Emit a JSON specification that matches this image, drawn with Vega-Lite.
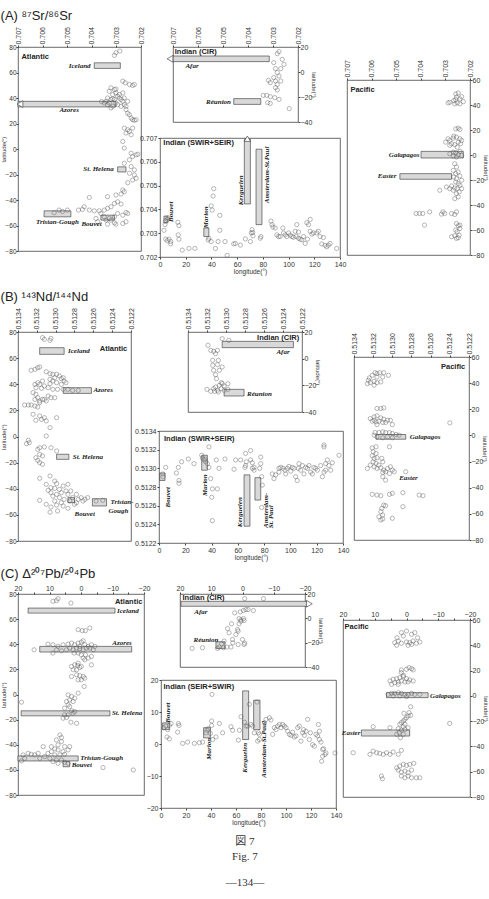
{
"$schema":"https://vega.github.io/schema/vega-lite/v6.json",
"background":"white",
"padding":{"left":0,"top":10,"right":0,"bottom":2},
"config":{
 "view":{"stroke":"#444","strokeWidth":0.8},
 "axis":{"labelFont":"Liberation Sans","labelFontSize":7,"labelColor":"#333","titleFont":"Liberation Sans","titleFontSize":6.5,"titleFontWeight":"normal","titleColor":"#333","tickColor":"#444","tickSize":2,"domain":false,"grid":false,"labelPadding":1,"titlePadding":2,"labelFlush":false,"labelOverlap":false,"labelBound":false}
},
"title":{"text":["図 7","Fig. 7"],"subtitle":"—134—","orient":"bottom","anchor":"middle","frame":"bounds","font":"Liberation Serif, Noto Sans CJK JP","fontSize":11,"fontWeight":"normal","color":"#333","lineHeight":15,"offset":10,"subtitleFont":"Liberation Serif","subtitleFontSize":11,"subtitleColor":"#333","subtitlePadding":15},
"spacing":16,
"vconcat":[
{
 "title":{"text":"(A) ⁸⁷Sr/⁸⁶Sr","anchor":"start","frame":"bounds","font":"Liberation Sans","fontSize":13,"fontWeight":"normal","color":"#222","offset":3},
 "spacing":-6,
 "hconcat":[
  {"width":123,"height":204,
   "encoding":{"x":{"field":"v","type":"quantitative","scale":{"domain":[0.707,0.702],"nice":false,"zero":false},"axis":{"orient":"top","values":[0.707,0.706,0.705,0.704,0.703,0.702],"format":".3f","labelAngle":-90,"title":null}},
    "y":{"field":"lat","type":"quantitative","scale":{"domain":[-80,80],"nice":false},"axis":{"values":[-80,-60,-40,-20,0,20,40,60,80],"title":"latitude(°)","labelFontSize":6.5,"titleFontSize":6,"titlePadding":-2,"labelPadding":0}}},
   "layer":[
    {"data":{"values":[{"v":0.7039,"v2":0.70284,"lat":63.2,"lat2":67.6},{"v":0.707,"v2":0.70302,"lat":33,"lat2":37.4},{"v":0.70295,"v2":0.70261,"lat":-14,"lat2":-18},{"v":0.70594,"v2":0.70485,"lat":-48.5,"lat2":-53.2},{"v":0.70363,"v2":0.70308,"lat":-51.9,"lat2":-55.8}]},
     "mark":{"type":"rect","fill":"#d9d9d9","stroke":"#333","strokeWidth":0.6},"encoding":{"x2":{"field":"v2"},"y2":{"field":"lat2"}}},
    {"data":{"values":[{"v":0.70692,"lat":35.2}]},
     "mark":{"type":"point","shape":"triangle-left","filled":true,"fill":"white","stroke":"#333","strokeWidth":0.6,"size":45,"opacity":1}},
    {"data":{"values":[{"v":0.70302,"lat":75.5},{"v":0.70286,"lat":76.8},{"v":0.70308,"lat":73.4},{"v":0.70322,"lat":48},{"v":0.70308,"lat":46.6},{"v":0.70329,"lat":45.3},{"v":0.70302,"lat":44},{"v":0.70315,"lat":42.7},{"v":0.70295,"lat":41.4},{"v":0.70336,"lat":40},{"v":0.70322,"lat":38.8},{"v":0.70308,"lat":38.8},{"v":0.70288,"lat":40},{"v":0.70281,"lat":38.8},{"v":0.70274,"lat":37.4},{"v":0.70342,"lat":37.4},{"v":0.70349,"lat":36.1},{"v":0.70329,"lat":36.1},{"v":0.70302,"lat":36.1},{"v":0.70295,"lat":34.8},{"v":0.70268,"lat":34.8},{"v":0.70281,"lat":33.5},{"v":0.70261,"lat":33.5},{"v":0.70315,"lat":33.5},{"v":0.70322,"lat":32.2},{"v":0.70336,"lat":34.8},{"v":0.70288,"lat":42.7},{"v":0.70302,"lat":47},{"v":0.70268,"lat":40},{"v":0.70315,"lat":39.5},{"v":0.70254,"lat":37.4},{"v":0.7036,"lat":37.2},{"v":0.70274,"lat":44},{"v":0.70274,"lat":53.2},{"v":0.70264,"lat":51.9},{"v":0.70247,"lat":50.6},{"v":0.70234,"lat":49.8},{"v":0.70227,"lat":50.6},{"v":0.70261,"lat":30.9},{"v":0.70247,"lat":26.9},{"v":0.7024,"lat":24.3},{"v":0.70234,"lat":23},{"v":0.70227,"lat":22.5},{"v":0.7022,"lat":23},{"v":0.70254,"lat":28},{"v":0.70268,"lat":16.4},{"v":0.70254,"lat":15.1},{"v":0.70247,"lat":13.8},{"v":0.70234,"lat":16.4},{"v":0.70261,"lat":12.5},{"v":0.7024,"lat":11.2},{"v":0.70274,"lat":5.9},{"v":0.70268,"lat":0.7},{"v":0.7024,"lat":-3.3},{"v":0.70234,"lat":-5.9},{"v":0.7022,"lat":-4.6},{"v":0.70213,"lat":-4.1},{"v":0.70247,"lat":-8.5},{"v":0.70268,"lat":-11.2},{"v":0.7024,"lat":-13.8},{"v":0.70227,"lat":-16.4},{"v":0.70247,"lat":-19},{"v":0.70227,"lat":-20.4},{"v":0.7022,"lat":-23},{"v":0.70254,"lat":-26.4},{"v":0.70234,"lat":-24.3},{"v":0.70274,"lat":-32.2},{"v":0.70268,"lat":-33.5},{"v":0.70281,"lat":-35.3},{"v":0.70302,"lat":-36.1},{"v":0.70336,"lat":-37.4},{"v":0.7041,"lat":-38},{"v":0.70431,"lat":-45.3},{"v":0.7041,"lat":-47.9},{"v":0.7039,"lat":-48.5},{"v":0.7037,"lat":-48.5},{"v":0.70349,"lat":-47.9},{"v":0.70336,"lat":-46.6},{"v":0.70322,"lat":-45.3},{"v":0.70308,"lat":-42.7},{"v":0.70295,"lat":-41.4},{"v":0.70281,"lat":-43.2},{"v":0.70363,"lat":-50.6},{"v":0.70349,"lat":-53.2},{"v":0.70329,"lat":-54.5},{"v":0.70308,"lat":-53.2},{"v":0.70295,"lat":-50.6},{"v":0.70274,"lat":-51.9},{"v":0.70261,"lat":-49.8},{"v":0.70254,"lat":-50.6},{"v":0.70308,"lat":-57.9},{"v":0.70302,"lat":-59},{"v":0.70322,"lat":-55.8},{"v":0.70342,"lat":-55.8},{"v":0.70376,"lat":-57.1},{"v":0.70383,"lat":-54.5},{"v":0.70336,"lat":-59},{"v":0.70274,"lat":-58.4},{"v":0.70261,"lat":-57.1},{"v":0.70454,"lat":-47.9},{"v":0.70438,"lat":-47.4},{"v":0.70533,"lat":-47.9},{"v":0.70519,"lat":-49},{"v":0.70499,"lat":-47.9},{"v":0.70553,"lat":-50}]},
     "mark":{"type":"point","shape":"circle","filled":false,"stroke":"#555","strokeWidth":0.6,"size":18}},
    {"data":{"values":[{"v":0.70397,"lat":65.4,"name":"Iceland"},{"v":0.70303,"lat":-16,"name":"St. Helena"}]},
     "mark":{"type":"text","font":"Liberation Serif","fontStyle":"italic","fontWeight":"bold","fontSize":7,"align":"right","baseline":"middle","color":"#222","dx":-2},"encoding":{"text":{"field":"name"}}},
    {"data":{"values":[{"v":0.70492,"lat":30.5,"name":"Azores"},{"v":0.7054,"lat":-57,"name":"Tristan-Gough"},{"v":0.70401,"lat":-59,"name":"Bouvet"}]},
     "mark":{"type":"text","font":"Liberation Serif","fontStyle":"italic","fontWeight":"bold","fontSize":7,"align":"center","baseline":"middle","color":"#222"},"encoding":{"text":{"field":"name"}}},
    {"data":{"values":[{"v":0.70686,"lat":72.4,"name":"Atlantic"}]},
     "mark":{"type":"text","font":"Liberation Sans","fontWeight":"bold","fontSize":7.5,"align":"left","baseline":"middle","color":"#222"},"encoding":{"text":{"field":"name"}}}
   ]},
  {"spacing":7,"vconcat":[
    {"spacing":0,"hconcat":[
      {"width":5,"height":1,"data":{"values":[]},"mark":"point","encoding":{},"view":{"stroke":null}},
      {"width":125,"height":75,
       "encoding":{"x":{"field":"v","type":"quantitative","scale":{"domain":[0.707,0.702],"nice":false,"zero":false},"axis":{"orient":"top","values":[0.707,0.706,0.705,0.704,0.703,0.702],"format":".3f","labelAngle":-90,"title":null}},
        "y":{"field":"lat","type":"quantitative","scale":{"domain":[-40,20],"nice":false},"axis":{"orient":"right","values":[-40,-20,0,20],"title":"latitude(°)","titlePadding":-1,"labelPadding":0,"titleFontSize":6}}},
       "layer":[
        {"data":{"values":[{"v":0.707,"v2":0.70315,"lat":8.3,"lat2":12.8},{"v":0.70457,"v2":0.70349,"lat":-21.3,"lat2":-25.9}]},
         "mark":{"type":"rect","fill":"#d9d9d9","stroke":"#333","strokeWidth":0.6},"encoding":{"x2":{"field":"v2"},"y2":{"field":"lat2"}}},
        {"data":{"values":[{"v":0.70712,"lat":10.55}]},
         "mark":{"type":"point","shape":"triangle-left","filled":true,"fill":"white","stroke":"#333","strokeWidth":0.6,"size":45,"opacity":1}},
        {"data":{"values":[{"v":0.70283,"lat":14.7},{"v":0.70276,"lat":16.3},{"v":0.70297,"lat":7.5},{"v":0.70263,"lat":10.1},{"v":0.70256,"lat":6.1},{"v":0.70269,"lat":2.7},{"v":0.7029,"lat":2.7},{"v":0.70283,"lat":-0.5},{"v":0.70276,"lat":-3.2},{"v":0.70297,"lat":-4.5},{"v":0.7029,"lat":-7.2},{"v":0.70269,"lat":-7.2},{"v":0.70283,"lat":-9.9},{"v":0.7029,"lat":-12.5},{"v":0.70311,"lat":-8.5},{"v":0.70318,"lat":-6.7},{"v":0.70339,"lat":-18.7},{"v":0.70325,"lat":-18.7},{"v":0.70311,"lat":-19.7},{"v":0.70293,"lat":-20.5},{"v":0.70276,"lat":-21.9},{"v":0.70321,"lat":-24.5},{"v":0.70311,"lat":-25.1},{"v":0.70235,"lat":-29.3},{"v":0.70283,"lat":-14.4}]},
         "mark":{"type":"point","shape":"circle","filled":false,"stroke":"#555","strokeWidth":0.6,"size":18}},
        {"data":{"values":[{"v":0.70624,"lat":4.8,"name":"Afar"}]},
         "mark":{"type":"text","font":"Liberation Serif","fontStyle":"italic","fontWeight":"bold","fontSize":7,"align":"center","baseline":"middle","color":"#222"},"encoding":{"text":{"field":"name"}}},
        {"data":{"values":[{"v":0.70468,"lat":-23.6,"name":"Réunion"}]},
         "mark":{"type":"text","font":"Liberation Serif","fontStyle":"italic","fontWeight":"bold","fontSize":7,"align":"right","baseline":"middle","color":"#222"},"encoding":{"text":{"field":"name"}}},
        {"data":{"values":[{"v":0.70693,"lat":16,"name":"Indian (CIR)"}]},
         "mark":{"type":"text","font":"Liberation Sans","fontWeight":"bold","fontSize":7.5,"align":"left","baseline":"middle","color":"#222"},"encoding":{"text":{"field":"name"}}}
       ]}
    ]},
    {"width":180,"height":119,
     "encoding":{"x":{"field":"lon","type":"quantitative","scale":{"domain":[0,140],"nice":false},"axis":{"values":[0,20,40,60,80,100,120,140],"title":"longitude(°)","titlePadding":1}},
      "y":{"field":"v","type":"quantitative","scale":{"domain":[0.702,0.707],"nice":false,"zero":false},"axis":{"values":[0.702,0.703,0.704,0.705,0.706,0.707],"format":".3f","title":null}}},
     "layer":[
      {"data":{"values":[{"lon":3.1,"lon2":6.2,"v":0.70344,"v2":0.70372},{"lon":34.1,"lon2":38,"v":0.70286,"v2":0.70322},{"lon":65.6,"lon2":70.3,"v":0.70423,"v2":0.70695},{"lon":74.7,"lon2":79.3,"v":0.70336,"v2":0.70653}]},
       "mark":{"type":"rect","fill":"#d9d9d9","stroke":"#333","strokeWidth":0.6},"encoding":{"x2":{"field":"lon2"},"y2":{"field":"v2"}}},
      {"data":{"values":[{"lon":67.95,"v":0.70697}]},
       "mark":{"type":"point","shape":"triangle-up","filled":true,"fill":"white","stroke":"#333","strokeWidth":0.6,"size":40,"opacity":1}},
      {"data":{"values":[{"lon":3.1,"v":0.70312},{"lon":4.4,"v":0.70275},{"lon":5.7,"v":0.70269},{"lon":7,"v":0.70275},{"lon":8.3,"v":0.70255},{"lon":8.3,"v":0.70265},{"lon":6.2,"v":0.70365},{"lon":5.7,"v":0.70358},{"lon":13.9,"v":0.70346},{"lon":14.7,"v":0.70332},{"lon":14.2,"v":0.70293},{"lon":14.7,"v":0.70275},{"lon":17.3,"v":0.70229},{"lon":22.5,"v":0.70236},{"lon":27.1,"v":0.70236},{"lon":38,"v":0.70279},{"lon":37.5,"v":0.70272},{"lon":39.8,"v":0.70265},{"lon":40.6,"v":0.70397},{"lon":39.8,"v":0.70415},{"lon":41.8,"v":0.70487},{"lon":41.3,"v":0.70456},{"lon":45.2,"v":0.70265},{"lon":43.1,"v":0.70236},{"lon":46.5,"v":0.70375},{"lon":46.5,"v":0.70312},{"lon":50.6,"v":0.70265},{"lon":52.2,"v":0.70207},{"lon":57.3,"v":0.70255},{"lon":58.6,"v":0.70257},{"lon":62.5,"v":0.7025},{"lon":66.4,"v":0.70276},{"lon":70.3,"v":0.70265},{"lon":71.6,"v":0.70315},{"lon":71,"v":0.70301},{"lon":72.1,"v":0.70303},{"lon":72.3,"v":0.70289},{"lon":78.5,"v":0.70286},{"lon":78,"v":0.70279},{"lon":86.3,"v":0.70351},{"lon":87.1,"v":0.70336},{"lon":87.8,"v":0.70326},{"lon":89.6,"v":0.70322},{"lon":90.9,"v":0.70293},{"lon":92.2,"v":0.70286},{"lon":93.5,"v":0.70286},{"lon":95.6,"v":0.70322},{"lon":96.1,"v":0.70301},{"lon":97.4,"v":0.70293},{"lon":98.7,"v":0.70286},{"lon":100,"v":0.70301},{"lon":101.3,"v":0.70292},{"lon":102.6,"v":0.70286},{"lon":103.8,"v":0.70283},{"lon":105.1,"v":0.70308},{"lon":105.9,"v":0.70286},{"lon":106.4,"v":0.70336},{"lon":107.7,"v":0.70279},{"lon":109,"v":0.70275},{"lon":110.3,"v":0.70272},{"lon":111.6,"v":0.70286},{"lon":112.9,"v":0.70257},{"lon":114.2,"v":0.70344},{"lon":115.5,"v":0.70336},{"lon":116.8,"v":0.70308},{"lon":118.1,"v":0.70296},{"lon":119.3,"v":0.70301},{"lon":121.9,"v":0.70301},{"lon":123.2,"v":0.70308},{"lon":124.5,"v":0.70286},{"lon":125.8,"v":0.70255},{"lon":127.1,"v":0.70282},{"lon":128.4,"v":0.70249},{"lon":129.7,"v":0.70243},{"lon":131,"v":0.7025},{"lon":132.3,"v":0.70257},{"lon":107.7,"v":0.70305},{"lon":114.7,"v":0.70275},{"lon":116.8,"v":0.70358},{"lon":137.4,"v":0.70236},{"lon":4.1,"v":0.70351},{"lon":3.9,"v":0.70336}]},
       "mark":{"type":"point","shape":"circle","filled":false,"stroke":"#555","strokeWidth":0.6,"size":18}},
      {"data":{"values":[{"lon":8.3,"v":0.7039,"name":"Bouvet"},{"lon":35.9,"v":0.70367,"name":"Marion"},{"lon":63,"v":0.7048,"name":"Kerguelen"},{"lon":83.2,"v":0.70545,"name":"Amsterdam-St.Paul"}]},
       "mark":{"type":"text","font":"Liberation Serif","fontStyle":"italic","fontWeight":"bold","fontSize":7,"align":"center","baseline":"middle","angle":270,"color":"#222"},"encoding":{"text":{"field":"name"}}},
      {"data":{"values":[{"lon":2.6,"v":0.70681,"name":"Indian (SWIR+SEIR)"}]},
       "mark":{"type":"text","font":"Liberation Sans","fontWeight":"bold","fontSize":7.5,"align":"left","baseline":"middle","color":"#222"},"encoding":{"text":{"field":"name"}}}
     ]}
  ]},
  {"spacing":0,"vconcat":[
    {"width":1,"height":12,"data":{"values":[]},"mark":"point","encoding":{},"view":{"stroke":null}},
    {"width":123,"height":175,
     "encoding":{"x":{"field":"v","type":"quantitative","scale":{"domain":[0.707,0.702],"nice":false,"zero":false},"axis":{"orient":"top","values":[0.707,0.706,0.705,0.704,0.703,0.702],"format":".3f","labelAngle":-90,"title":null}},
      "y":{"field":"lat","type":"quantitative","scale":{"domain":[-80,60],"nice":false},"axis":{"orient":"right","values":[-80,-60,-40,-20,0,20,40,60],"title":"latitude(°)","titlePadding":-1,"labelPadding":0,"titleFontSize":6}}},
     "layer":[
      {"data":{"values":[{"v":0.70399,"v2":0.70227,"lat":-2.4,"lat2":2.9},{"v":0.70485,"v2":0.70275,"lat":-19.4,"lat2":-14.9}]},
       "mark":{"type":"rect","fill":"#d9d9d9","stroke":"#333","strokeWidth":0.6},"encoding":{"x2":{"field":"v2"},"y2":{"field":"lat2"}}},
      {"data":{"values":[{"v":0.70258,"lat":48.8},{"v":0.70248,"lat":49.6},{"v":0.70255,"lat":46.2},{"v":0.70241,"lat":44.9},{"v":0.70266,"lat":43.5},{"v":0.70282,"lat":42.2},{"v":0.70289,"lat":41.7},{"v":0.70252,"lat":41.7},{"v":0.70262,"lat":40.9},{"v":0.70241,"lat":40.9},{"v":0.70227,"lat":42.7},{"v":0.70234,"lat":46.7},{"v":0.70258,"lat":44.3},{"v":0.70258,"lat":20.9},{"v":0.70248,"lat":21.5},{"v":0.70241,"lat":20.4},{"v":0.70289,"lat":13},{"v":0.70282,"lat":11.6},{"v":0.70268,"lat":13.5},{"v":0.70255,"lat":14.3},{"v":0.70241,"lat":13},{"v":0.70299,"lat":10.3},{"v":0.70275,"lat":9},{"v":0.70262,"lat":8.2},{"v":0.70248,"lat":10.3},{"v":0.70234,"lat":11.6},{"v":0.70266,"lat":15.1},{"v":0.70282,"lat":7.7},{"v":0.70252,"lat":6.3},{"v":0.70238,"lat":9},{"v":0.70282,"lat":1},{"v":0.70268,"lat":2.3},{"v":0.70258,"lat":1.8},{"v":0.70248,"lat":0.2},{"v":0.70241,"lat":2.9},{"v":0.70268,"lat":-0.8},{"v":0.70255,"lat":-1.6},{"v":0.70234,"lat":-0.3},{"v":0.70262,"lat":-7},{"v":0.70255,"lat":-9.6},{"v":0.70268,"lat":-12.3},{"v":0.70258,"lat":-14.9},{"v":0.70248,"lat":-13.6},{"v":0.70241,"lat":-16.8},{"v":0.70266,"lat":-17.6},{"v":0.70255,"lat":-18.9},{"v":0.70234,"lat":-20.2},{"v":0.70258,"lat":-21.6},{"v":0.70248,"lat":-22.9},{"v":0.70241,"lat":-24.2},{"v":0.70275,"lat":-24.8},{"v":0.70262,"lat":-26.4},{"v":0.70252,"lat":-26.9},{"v":0.70268,"lat":-28.2},{"v":0.70282,"lat":-26.9},{"v":0.70296,"lat":-25.6},{"v":0.70323,"lat":-28.2},{"v":0.70255,"lat":-30.9},{"v":0.70248,"lat":-33.5},{"v":0.70262,"lat":-34.9},{"v":0.70244,"lat":-29.5},{"v":0.70234,"lat":-26.9},{"v":0.70419,"lat":-46.8},{"v":0.70405,"lat":-46.8},{"v":0.70392,"lat":-46.8},{"v":0.70364,"lat":-45.5},{"v":0.7031,"lat":-45.5},{"v":0.70303,"lat":-46.8},{"v":0.70316,"lat":-47.3},{"v":0.70275,"lat":-46.8},{"v":0.70255,"lat":-45.5},{"v":0.70262,"lat":-47.6},{"v":0.70385,"lat":-56.1},{"v":0.70255,"lat":-54.8},{"v":0.70248,"lat":-56.6},{"v":0.70241,"lat":-58.8},{"v":0.70258,"lat":-60.1},{"v":0.70252,"lat":-61.4},{"v":0.70244,"lat":-64.1},{"v":0.70262,"lat":-64.6},{"v":0.70255,"lat":-66.7},{"v":0.70248,"lat":-66.2},{"v":0.70275,"lat":-65.4},{"v":0.70241,"lat":-56.1}]},
       "mark":{"type":"point","shape":"circle","filled":false,"stroke":"#555","strokeWidth":0.6,"size":18}},
      {"data":{"values":[{"v":0.70405,"lat":0.2,"name":"Galapagos"},{"v":0.70499,"lat":-17,"name":"Easter"}]},
       "mark":{"type":"text","font":"Liberation Serif","fontStyle":"italic","fontWeight":"bold","fontSize":7,"align":"right","baseline":"middle","color":"#222"},"encoding":{"text":{"field":"name"}}},
      {"data":{"values":[{"v":0.70686,"lat":52.3,"name":"Pacific"}]},
       "mark":{"type":"text","font":"Liberation Sans","fontWeight":"bold","fontSize":7.5,"align":"left","baseline":"middle","color":"#222"},"encoding":{"text":{"field":"name"}}}
     ]}
  ]}
 ]
},
{"spacing":6,"vconcat":[
{
 "title":{"text":"(B) ¹⁴³Nd/¹⁴⁴Nd","anchor":"start","frame":"bounds","font":"Liberation Sans","fontSize":13,"fontWeight":"normal","color":"#222","offset":3},
 "spacing":-1,
 "hconcat":[
  {"width":113,"height":209,
   "encoding":{"x":{"field":"v","type":"quantitative","scale":{"domain":[0.5134,0.5122],"nice":false,"zero":false},"axis":{"orient":"top","values":[0.5134,0.5132,0.513,0.5128,0.5126,0.5124,0.5122],"format":".4f","labelAngle":-90,"title":null}},
    "y":{"field":"lat","type":"quantitative","scale":{"domain":[-80,80],"nice":false},"axis":{"values":[-80,-60,-40,-20,0,20,40,60,80],"title":"latitude(°)","labelFontSize":6.5,"titleFontSize":6,"titlePadding":-2,"labelPadding":0}}},
   "layer":[
    {"data":{"values":[{"v":0.51317,"v2":0.51291,"lat":62.9,"lat2":68},{"v":0.51292,"v2":0.51262,"lat":33,"lat2":37.4},{"v":0.51299,"v2":0.51286,"lat":-13.6,"lat2":-17.5},{"v":0.51261,"v2":0.51246,"lat":-47.6,"lat2":-53.2},{"v":0.51287,"v2":0.5128,"lat":-46.8,"lat2":-50.6}]},
     "mark":{"type":"rect","fill":"#d9d9d9","stroke":"#333","strokeWidth":0.6},"encoding":{"x2":{"field":"v2"},"y2":{"field":"lat2"}}},
    {"data":{"values":[{"v":0.51314,"lat":75.7},{"v":0.51312,"lat":74.4},{"v":0.51306,"lat":73.6},{"v":0.51305,"lat":75.1},{"v":0.51326,"lat":50.7},{"v":0.51322,"lat":51.4},{"v":0.51319,"lat":52.7},{"v":0.51317,"lat":53.2},{"v":0.5131,"lat":49.6},{"v":0.51306,"lat":48.1},{"v":0.51303,"lat":47.6},{"v":0.51299,"lat":47.6},{"v":0.51296,"lat":46.3},{"v":0.51292,"lat":45},{"v":0.51301,"lat":45},{"v":0.51306,"lat":43.8},{"v":0.51314,"lat":42.5},{"v":0.51319,"lat":41.2},{"v":0.51322,"lat":39.9},{"v":0.51317,"lat":39.9},{"v":0.51312,"lat":38.7},{"v":0.51306,"lat":40.4},{"v":0.51299,"lat":41.2},{"v":0.51294,"lat":39.9},{"v":0.51291,"lat":42.5},{"v":0.51289,"lat":41.2},{"v":0.51321,"lat":37.4},{"v":0.51315,"lat":36.9},{"v":0.51308,"lat":37.4},{"v":0.51303,"lat":36.1},{"v":0.51298,"lat":36.1},{"v":0.51292,"lat":36.1},{"v":0.51287,"lat":36.1},{"v":0.51282,"lat":35.3},{"v":0.51276,"lat":35.3},{"v":0.51324,"lat":33.6},{"v":0.51321,"lat":32.3},{"v":0.51319,"lat":29.7},{"v":0.51317,"lat":27.2},{"v":0.51314,"lat":28.4},{"v":0.5131,"lat":27.2},{"v":0.51305,"lat":29.7},{"v":0.51301,"lat":29.7},{"v":0.51322,"lat":28.4},{"v":0.51333,"lat":24.1},{"v":0.51329,"lat":24.1},{"v":0.51326,"lat":24.1},{"v":0.51322,"lat":23.3},{"v":0.51319,"lat":22.6},{"v":0.51317,"lat":25.9},{"v":0.51312,"lat":28.4},{"v":0.51308,"lat":31},{"v":0.51303,"lat":42.5},{"v":0.51294,"lat":44.3},{"v":0.51324,"lat":17},{"v":0.51317,"lat":15.7},{"v":0.51315,"lat":13.1},{"v":0.51321,"lat":12.4},{"v":0.51312,"lat":14.4},{"v":0.5131,"lat":11.9},{"v":0.51299,"lat":14.4},{"v":0.51306,"lat":6.8},{"v":0.5131,"lat":0.4},{"v":0.51329,"lat":-2.9},{"v":0.51328,"lat":-4.7},{"v":0.51331,"lat":-5.5},{"v":0.51317,"lat":-8.6},{"v":0.51319,"lat":-9.8},{"v":0.51312,"lat":-8},{"v":0.51305,"lat":-8.6},{"v":0.51299,"lat":-11.1},{"v":0.51317,"lat":-13.7},{"v":0.51314,"lat":-14.9},{"v":0.51321,"lat":-16.2},{"v":0.51319,"lat":-18.3},{"v":0.51317,"lat":-20},{"v":0.51314,"lat":-21.3},{"v":0.51317,"lat":-32},{"v":0.51306,"lat":-30.2},{"v":0.51301,"lat":-34.1},{"v":0.5131,"lat":-36.6},{"v":0.51299,"lat":-36.1},{"v":0.51292,"lat":-37.9},{"v":0.51287,"lat":-36.6},{"v":0.51305,"lat":-39.2},{"v":0.51301,"lat":-39.7},{"v":0.51296,"lat":-40.5},{"v":0.51289,"lat":-41.7},{"v":0.51284,"lat":-41.7},{"v":0.51278,"lat":-44.3},{"v":0.51273,"lat":-46.8},{"v":0.51269,"lat":-48.1},{"v":0.51266,"lat":-46.8},{"v":0.51308,"lat":-41.2},{"v":0.51305,"lat":-43},{"v":0.51299,"lat":-44.3},{"v":0.51294,"lat":-43},{"v":0.51287,"lat":-44.3},{"v":0.51282,"lat":-46.8},{"v":0.51276,"lat":-48.1},{"v":0.51303,"lat":-45.6},{"v":0.51296,"lat":-46.8},{"v":0.51291,"lat":-48.1},{"v":0.51285,"lat":-49.4},{"v":0.51278,"lat":-50.7},{"v":0.51271,"lat":-49.4},{"v":0.51301,"lat":-49.4},{"v":0.51294,"lat":-50.7},{"v":0.51317,"lat":-48.9},{"v":0.5131,"lat":-51.9},{"v":0.51305,"lat":-54},{"v":0.51299,"lat":-52.5},{"v":0.51292,"lat":-53.2},{"v":0.51287,"lat":-55},{"v":0.5128,"lat":-51.9},{"v":0.5125,"lat":-48.9},{"v":0.51257,"lat":-49.4},{"v":0.51306,"lat":-58},{"v":0.51298,"lat":-57}]},
     "mark":{"type":"point","shape":"circle","filled":false,"stroke":"#555","strokeWidth":0.6,"size":18}},
    {"data":{"values":[{"v":0.51289,"lat":65.5,"name":"Iceland"},{"v":0.51262,"lat":35.3,"name":"Azores"},{"v":0.51284,"lat":-15.5,"name":"St. Helena"},{"v":0.51244,"lat":-50.5,"name":"Tristan-"},{"v":0.51246,"lat":-57,"name":"Gough"},{"v":0.51282,"lat":-59.5,"name":"Bouvet"}]},
     "mark":{"type":"text","font":"Liberation Serif","fontStyle":"italic","fontWeight":"bold","fontSize":7,"align":"left","baseline":"middle","color":"#222","dx":2},"encoding":{"text":{"field":"name"}}},
    {"data":{"values":[{"v":0.51224,"lat":67,"name":"Atlantic"}]},
     "mark":{"type":"text","font":"Liberation Sans","fontWeight":"bold","fontSize":7.5,"align":"right","baseline":"middle","color":"#222"},"encoding":{"text":{"field":"name"}}}
   ]},
  {"spacing":10,"vconcat":[
    {"spacing":0,"hconcat":[
      {"width":24,"height":1,"data":{"values":[]},"mark":"point","encoding":{},"view":{"stroke":null}},
      {"width":114,"height":80,
       "encoding":{"x":{"field":"v","type":"quantitative","scale":{"domain":[0.5134,0.5122],"nice":false,"zero":false},"axis":{"orient":"top","values":[0.5134,0.5132,0.513,0.5128,0.5126,0.5124,0.5122],"format":".4f","labelAngle":-90,"title":null}},
        "y":{"field":"lat","type":"quantitative","scale":{"domain":[-40,20],"nice":false},"axis":{"orient":"right","values":[-40,-20,0,20],"title":"latitude(°)","titlePadding":-1,"labelPadding":0,"titleFontSize":6}}},
       "layer":[
        {"data":{"values":[{"v":0.51304,"v2":0.51229,"lat":8.25,"lat2":13},{"v":0.51302,"v2":0.51281,"lat":-28,"lat2":-23}]},
         "mark":{"type":"rect","fill":"#d9d9d9","stroke":"#333","strokeWidth":0.6},"encoding":{"x2":{"field":"v2"},"y2":{"field":"lat2"}}},
        {"data":{"values":[{"v":0.51319,"lat":10},{"v":0.51304,"lat":15},{"v":0.51297,"lat":13.75},{"v":0.51316,"lat":6.25},{"v":0.51313,"lat":5.5},{"v":0.51309,"lat":6.25},{"v":0.51311,"lat":3.75},{"v":0.51314,"lat":-1.25},{"v":0.51308,"lat":-1.25},{"v":0.51314,"lat":-5},{"v":0.51309,"lat":-4.5},{"v":0.51304,"lat":-6.25},{"v":0.51313,"lat":-8.75},{"v":0.51307,"lat":-8.75},{"v":0.51311,"lat":-12},{"v":0.5131,"lat":-15},{"v":0.51305,"lat":-18},{"v":0.51307,"lat":-20},{"v":0.51304,"lat":-18.75},{"v":0.51302,"lat":-20.5},{"v":0.51311,"lat":-21.25},{"v":0.51298,"lat":-18.75},{"v":0.51313,"lat":-22.5},{"v":0.51309,"lat":-23.75},{"v":0.51305,"lat":-22.5},{"v":0.51302,"lat":-23.75},{"v":0.51298,"lat":-23},{"v":0.5132,"lat":-23},{"v":0.51316,"lat":-24.5},{"v":0.51312,"lat":-24.5},{"v":0.51308,"lat":-25}]},
         "mark":{"type":"point","shape":"circle","filled":false,"stroke":"#555","strokeWidth":0.6,"size":18}},
        {"data":{"values":[{"v":0.51233,"lat":5,"name":"Afar"}]},
         "mark":{"type":"text","font":"Liberation Serif","fontStyle":"italic","fontWeight":"bold","fontSize":7,"align":"right","baseline":"middle","color":"#222"},"encoding":{"text":{"field":"name"}}},
        {"data":{"values":[{"v":0.5128,"lat":-26.25,"name":"Réunion"}]},
         "mark":{"type":"text","font":"Liberation Serif","fontStyle":"italic","fontWeight":"bold","fontSize":7,"align":"left","baseline":"middle","color":"#222","dx":2},"encoding":{"text":{"field":"name"}}},
        {"data":{"values":[{"v":0.51223,"lat":15.5,"name":"Indian (CIR)"}]},
         "mark":{"type":"text","font":"Liberation Sans","fontWeight":"bold","fontSize":7.5,"align":"right","baseline":"middle","color":"#222"},"encoding":{"text":{"field":"name"}}}
       ]}
    ]},
    {"width":184,"height":112,
     "encoding":{"x":{"field":"lon","type":"quantitative","scale":{"domain":[0,140],"nice":false},"axis":{"values":[0,20,40,60,80,100,120,140],"title":"longitude(°)","titlePadding":1}},
      "y":{"field":"v","type":"quantitative","scale":{"domain":[0.5122,0.5134],"nice":false,"zero":false},"axis":{"values":[0.5122,0.5124,0.5126,0.5128,0.513,0.5132,0.5134],"format":".4f","title":null}}},
     "layer":[
      {"data":{"values":[{"lon":0.5,"lon2":4.6,"v":0.51287,"v2":0.51295},{"lon":32.5,"lon2":36.8,"v":0.51298,"v2":0.51314},{"lon":64.7,"lon2":69.2,"v":0.51238,"v2":0.51293},{"lon":73,"lon2":77.4,"v":0.51266,"v2":0.5129}]},
       "mark":{"type":"rect","fill":"#d9d9d9","stroke":"#333","strokeWidth":0.6},"encoding":{"x2":{"field":"lon2"},"y2":{"field":"v2"}}},
      {"data":{"values":[{"lon":3,"v":0.51294},{"lon":3,"v":0.51291},{"lon":5.1,"v":0.51301},{"lon":13.2,"v":0.51295},{"lon":14.7,"v":0.51301},{"lon":15.2,"v":0.51287},{"lon":15.2,"v":0.51284},{"lon":17.2,"v":0.51307},{"lon":22.3,"v":0.5131},{"lon":26.6,"v":0.51305},{"lon":32.5,"v":0.51314},{"lon":33,"v":0.51311},{"lon":34.2,"v":0.51309},{"lon":35,"v":0.5131},{"lon":36.8,"v":0.51305},{"lon":38,"v":0.51301},{"lon":35.5,"v":0.51307},{"lon":38,"v":0.51323},{"lon":39.3,"v":0.51289},{"lon":40.1,"v":0.51269},{"lon":40.6,"v":0.51278},{"lon":44.4,"v":0.51278},{"lon":40.6,"v":0.51244},{"lon":43.6,"v":0.51309},{"lon":45.7,"v":0.513},{"lon":50.2,"v":0.5131},{"lon":57.1,"v":0.51299},{"lon":58.3,"v":0.51309},{"lon":62.1,"v":0.51309},{"lon":65.9,"v":0.51316},{"lon":65.9,"v":0.51303},{"lon":65.4,"v":0.51301},{"lon":66.4,"v":0.51307},{"lon":69.7,"v":0.51319},{"lon":69.7,"v":0.51309},{"lon":71,"v":0.51306},{"lon":72.3,"v":0.51301},{"lon":72.3,"v":0.51298},{"lon":71,"v":0.513},{"lon":77.4,"v":0.51312},{"lon":77.4,"v":0.51305},{"lon":76.6,"v":0.513},{"lon":78.1,"v":0.51291},{"lon":78.6,"v":0.51282},{"lon":78.1,"v":0.51258},{"lon":86.2,"v":0.51294},{"lon":87.5,"v":0.51289},{"lon":88.8,"v":0.51293},{"lon":91.3,"v":0.513},{"lon":91.3,"v":0.51296},{"lon":92.6,"v":0.51301},{"lon":94.3,"v":0.513},{"lon":95.9,"v":0.51298},{"lon":96.4,"v":0.51294},{"lon":97.6,"v":0.513},{"lon":98.9,"v":0.51302},{"lon":100.2,"v":0.51297},{"lon":101.4,"v":0.51301},{"lon":102.7,"v":0.513},{"lon":104,"v":0.51291},{"lon":105.2,"v":0.51287},{"lon":106,"v":0.513},{"lon":106.5,"v":0.51305},{"lon":107.8,"v":0.51298},{"lon":109.1,"v":0.51303},{"lon":110.3,"v":0.51294},{"lon":111.6,"v":0.51301},{"lon":112.9,"v":0.513},{"lon":114.1,"v":0.51303},{"lon":115.4,"v":0.51296},{"lon":116.7,"v":0.51294},{"lon":117.9,"v":0.51301},{"lon":119.2,"v":0.513},{"lon":120.5,"v":0.51298},{"lon":123,"v":0.51303},{"lon":124.3,"v":0.51291},{"lon":125.5,"v":0.51296},{"lon":125.5,"v":0.51325},{"lon":125.5,"v":0.51323},{"lon":126.8,"v":0.51305},{"lon":128.1,"v":0.51309},{"lon":129.3,"v":0.51303},{"lon":130.6,"v":0.51298},{"lon":131.9,"v":0.51306},{"lon":137,"v":0.51314},{"lon":126.8,"v":0.51298}]},
       "mark":{"type":"point","shape":"circle","filled":false,"stroke":"#555","strokeWidth":0.6,"size":18}},
      {"data":{"values":[{"lon":7.1,"v":0.51269,"name":"Bouvet"},{"lon":34.7,"v":0.51282,"name":"Marion"},{"lon":61.6,"v":0.51253,"name":"Kerguelen"},{"lon":81.4,"v":0.51255,"name":"Amsterdam-"},{"lon":85,"v":0.51248,"name":"St. Paul"}]},
       "mark":{"type":"text","font":"Liberation Serif","fontStyle":"italic","fontWeight":"bold","fontSize":7,"align":"center","baseline":"middle","angle":270,"color":"#222"},"encoding":{"text":{"field":"name"}}},
      {"data":{"values":[{"lon":3.8,"v":0.51331,"name":"Indian (SWIR+SEIR)"}]},
       "mark":{"type":"text","font":"Liberation Sans","fontWeight":"bold","fontSize":7.5,"align":"left","baseline":"middle","color":"#222"},"encoding":{"text":{"field":"name"}}}
     ]}
  ]},
  {"spacing":-1,"vconcat":[
    {"width":1,"height":1,"data":{"values":[]},"mark":"point","encoding":{},"view":{"stroke":null}},
    {"width":115,"height":183,
     "encoding":{"x":{"field":"v","type":"quantitative","scale":{"domain":[0.5134,0.5122],"nice":false,"zero":false},"axis":{"orient":"top","values":[0.5134,0.5132,0.513,0.5128,0.5126,0.5124,0.5122],"format":".4f","labelAngle":-90,"title":null}},
      "y":{"field":"lat","type":"quantitative","scale":{"domain":[-80,60],"nice":false},"axis":{"orient":"right","values":[-80,-60,-40,-20,0,20,40,60],"title":"latitude(°)","titlePadding":-1,"labelPadding":0,"titleFontSize":6}}},
     "layer":[
      {"data":{"values":[{"v":0.51317,"v2":0.51286,"lat":-2.9,"lat2":0.7}]},
       "mark":{"type":"rect","fill":"#d9d9d9","stroke":"#333","strokeWidth":0.6},"encoding":{"x2":{"field":"v2"},"y2":{"field":"lat2"}}},
      {"data":{"values":[{"v":0.51324,"lat":44},{"v":0.51321,"lat":46},{"v":0.51318,"lat":48},{"v":0.51316,"lat":47.3},{"v":0.51313,"lat":48},{"v":0.51309,"lat":48},{"v":0.51304,"lat":46},{"v":0.51316,"lat":44.7},{"v":0.5131,"lat":44.7},{"v":0.51325,"lat":42.2},{"v":0.51323,"lat":40.4},{"v":0.51319,"lat":41.4},{"v":0.51316,"lat":40.4},{"v":0.51312,"lat":40.9},{"v":0.51319,"lat":38.4},{"v":0.51326,"lat":39.6},{"v":0.51316,"lat":20.6},{"v":0.51312,"lat":20.6},{"v":0.51309,"lat":21.1},{"v":0.51323,"lat":12.9},{"v":0.51319,"lat":14.2},{"v":0.51316,"lat":15},{"v":0.51312,"lat":13.4},{"v":0.51309,"lat":12.4},{"v":0.51305,"lat":11.6},{"v":0.51302,"lat":11.6},{"v":0.51321,"lat":10.9},{"v":0.51317,"lat":10.4},{"v":0.51314,"lat":10.9},{"v":0.5131,"lat":9.9},{"v":0.51307,"lat":9.9},{"v":0.513,"lat":8.3},{"v":0.51316,"lat":8.3},{"v":0.51319,"lat":11.6},{"v":0.5124,"lat":9.6},{"v":0.51318,"lat":2.2},{"v":0.51314,"lat":2.2},{"v":0.5131,"lat":2.7},{"v":0.51307,"lat":2.2},{"v":0.51303,"lat":2.2},{"v":0.513,"lat":1.5},{"v":0.51296,"lat":0.7},{"v":0.51293,"lat":0.2},{"v":0.51316,"lat":-1.1},{"v":0.5131,"lat":-1.8},{"v":0.51305,"lat":-1.1},{"v":0.513,"lat":-1.8},{"v":0.51319,"lat":0.2},{"v":0.51321,"lat":-9.5},{"v":0.51317,"lat":-8.7},{"v":0.51303,"lat":-8.7},{"v":0.5132,"lat":-12.5},{"v":0.51317,"lat":-13.8},{"v":0.51321,"lat":-15.6},{"v":0.51319,"lat":-17.6},{"v":0.51316,"lat":-17.1},{"v":0.51311,"lat":-17.6},{"v":0.5132,"lat":-20.2},{"v":0.51317,"lat":-21.4},{"v":0.51314,"lat":-22.7},{"v":0.5131,"lat":-20.2},{"v":0.51326,"lat":-25.3},{"v":0.51323,"lat":-22.7},{"v":0.51319,"lat":-24},{"v":0.51316,"lat":-25.3},{"v":0.51312,"lat":-24.7},{"v":0.51309,"lat":-26.5},{"v":0.51305,"lat":-25.3},{"v":0.51302,"lat":-24},{"v":0.513,"lat":-26.5},{"v":0.5131,"lat":-28.3},{"v":0.51307,"lat":-27.8},{"v":0.51303,"lat":-29.1},{"v":0.51298,"lat":-27.8},{"v":0.5131,"lat":-31.6},{"v":0.51286,"lat":-27.8},{"v":0.51307,"lat":-34.2},{"v":0.51321,"lat":-45.1},{"v":0.51316,"lat":-45.6},{"v":0.51312,"lat":-46.1},{"v":0.51303,"lat":-45.1},{"v":0.513,"lat":-44.3},{"v":0.51289,"lat":-43.8},{"v":0.51272,"lat":-45.6},{"v":0.51268,"lat":-46.1},{"v":0.51309,"lat":-53.3},{"v":0.51307,"lat":-53.8},{"v":0.51311,"lat":-55.8},{"v":0.51312,"lat":-58.3},{"v":0.5131,"lat":-60.9},{"v":0.51314,"lat":-62.2},{"v":0.5131,"lat":-63.9},{"v":0.51312,"lat":-64.7},{"v":0.513,"lat":-63.4},{"v":0.51289,"lat":-54.5}]},
       "mark":{"type":"point","shape":"circle","filled":false,"stroke":"#555","strokeWidth":0.6,"size":18}},
      {"data":{"values":[{"v":0.51284,"lat":-1.1,"name":"Galapagos"},{"v":0.51295,"lat":-32.9,"name":"Easter"}]},
       "mark":{"type":"text","font":"Liberation Serif","fontStyle":"italic","fontWeight":"bold","fontSize":7,"align":"left","baseline":"middle","color":"#222","dx":2},"encoding":{"text":{"field":"name"}}},
      {"data":{"values":[{"v":0.51224,"lat":52.4,"name":"Pacific"}]},
       "mark":{"type":"text","font":"Liberation Sans","fontWeight":"bold","fontSize":7.5,"align":"right","baseline":"middle","color":"#222"},"encoding":{"text":{"field":"name"}}}
     ]}
  ]}
 ]
},
{
 "title":{"text":"(C) Δ²⁰⁷Pb/²⁰⁴Pb","anchor":"start","frame":"bounds","font":"Liberation Sans","fontSize":13,"fontWeight":"normal","color":"#222","offset":3},
 "spacing":-6,
 "hconcat":[
  {"width":126,"height":201,
   "encoding":{"x":{"field":"v","type":"quantitative","scale":{"domain":[20,-20],"nice":false,"zero":false},"axis":{"orient":"top","values":[20,15,10,5,0,-5,-10,-15,-20],"labelExpr":"datum.value % 10 === 0 ? datum.label : ''","title":null}},
    "y":{"field":"lat","type":"quantitative","scale":{"domain":[-80,80],"nice":false},"axis":{"values":[-80,-60,-40,-20,0,20,40,60,80],"title":"latitude(°)","labelFontSize":6.5,"titleFontSize":6,"titlePadding":-2,"labelPadding":0}}},
   "layer":[
    {"data":{"values":[{"v":16.8,"v2":-10.8,"lat":64.8,"lat2":68.8},{"v":13.1,"v2":-16.1,"lat":33.8,"lat2":38.3},{"v":19,"v2":-9.2,"lat":-17,"lat2":-13},{"v":20,"v2":0.9,"lat":-52.9,"lat2":-48.9},{"v":5.7,"v2":3.6,"lat":-53.4,"lat2":-57.5}]},
     "mark":{"type":"rect","fill":"#d9d9d9","stroke":"#333","strokeWidth":0.6},"encoding":{"x2":{"field":"v2"},"y2":{"field":"lat2"}}},
    {"data":{"values":[{"v":8.9,"lat":74.2},{"v":7.8,"lat":74.7},{"v":7.3,"lat":76.3},{"v":3.2,"lat":72.8},{"v":0.9,"lat":51.6},{"v":-0.4,"lat":50.8},{"v":-1.4,"lat":50.8},{"v":-2.8,"lat":52.9},{"v":10.5,"lat":40.1},{"v":8.9,"lat":39.6},{"v":7.3,"lat":38.3},{"v":5.7,"lat":39.6},{"v":4.1,"lat":40.1},{"v":3,"lat":40.9},{"v":2,"lat":39.6},{"v":0.9,"lat":40.9},{"v":-0.1,"lat":41.7},{"v":-0.7,"lat":42.8},{"v":0.4,"lat":38.3},{"v":-1.2,"lat":39.6},{"v":-2.3,"lat":38.3},{"v":-3.3,"lat":39.6},{"v":8.9,"lat":33},{"v":7.8,"lat":35.6},{"v":6.2,"lat":34.8},{"v":4.6,"lat":35.6},{"v":3.6,"lat":36.9},{"v":2.5,"lat":35.6},{"v":1.4,"lat":36.9},{"v":0.4,"lat":36.4},{"v":-0.7,"lat":35.6},{"v":-1.7,"lat":36.9},{"v":-2.8,"lat":36.9},{"v":-3.9,"lat":35.6},{"v":-4.4,"lat":38.3},{"v":2.2,"lat":33},{"v":0.9,"lat":33},{"v":-0.1,"lat":31.6},{"v":-1.4,"lat":31.6},{"v":-2.3,"lat":29},{"v":-3.3,"lat":30.3},{"v":-0.7,"lat":29},{"v":-1.2,"lat":27.6},{"v":14.9,"lat":35.6},{"v":2,"lat":23.6},{"v":1.1,"lat":23.1},{"v":0.4,"lat":21.5},{"v":0.9,"lat":25},{"v":3,"lat":22.3},{"v":2.5,"lat":19.7},{"v":1.4,"lat":19.7},{"v":-0.1,"lat":22.3},{"v":-3.3,"lat":23.6},{"v":3,"lat":14.3},{"v":1.4,"lat":15.7},{"v":0.4,"lat":15.1},{"v":-0.7,"lat":14.3},{"v":-1.2,"lat":13},{"v":0.9,"lat":11.7},{"v":-0.1,"lat":11.7},{"v":-1,"lat":6.4},{"v":4.1,"lat":-0.3},{"v":3,"lat":-1.6},{"v":3.6,"lat":-4.3},{"v":2,"lat":-2.9},{"v":2.5,"lat":-5.6},{"v":0.9,"lat":1.1},{"v":4.6,"lat":-5.6},{"v":18.9,"lat":-6.1},{"v":4.1,"lat":-8.2},{"v":3.6,"lat":-9.6},{"v":5.2,"lat":-10.9},{"v":3,"lat":-13},{"v":2,"lat":-13.6},{"v":4.1,"lat":-16.2},{"v":5.2,"lat":-16.2},{"v":2.5,"lat":-14.9},{"v":5.7,"lat":-18.9},{"v":3.2,"lat":-22.1},{"v":1.4,"lat":-22.9},{"v":4.6,"lat":-18.3},{"v":6.7,"lat":-32.2},{"v":6.2,"lat":-34.3},{"v":7.8,"lat":-36.2},{"v":6.2,"lat":-37.5},{"v":7.3,"lat":-40.1},{"v":9.4,"lat":-41.5},{"v":5.2,"lat":-41.5},{"v":3.6,"lat":-41.5},{"v":12,"lat":-41.5},{"v":8.3,"lat":-43.3},{"v":7.3,"lat":-44.1},{"v":5.7,"lat":-45.5},{"v":4.1,"lat":-44.1},{"v":9.4,"lat":-45.5},{"v":10.5,"lat":-46.8},{"v":8.3,"lat":-48.1},{"v":6.7,"lat":-48.1},{"v":5.2,"lat":-47.6},{"v":16.8,"lat":-46.8},{"v":15.8,"lat":-47.6},{"v":14.7,"lat":-48.1},{"v":13.6,"lat":-46.8},{"v":11.5,"lat":-49.4},{"v":9.9,"lat":-50.8},{"v":7.8,"lat":-52.1},{"v":6.2,"lat":-52.1},{"v":18.4,"lat":-48.1},{"v":17.9,"lat":-50.8},{"v":18.9,"lat":-52.9},{"v":8.9,"lat":-53.4},{"v":7.3,"lat":-54.8},{"v":5.2,"lat":-54},{"v":4.1,"lat":-54.8},{"v":-7,"lat":-58.2},{"v":-16.6,"lat":-60.1},{"v":13.1,"lat":-50.8}]},
     "mark":{"type":"point","shape":"circle","filled":false,"stroke":"#555","strokeWidth":0.6,"size":18}},
    {"data":{"values":[{"v":-10.8,"lat":66.8,"name":"Iceland"},{"v":-9.2,"lat":-15,"name":"St. Helena"},{"v":0.9,"lat":-50.8,"name":"Tristan-Gough"},{"v":3.6,"lat":-56.2,"name":"Bouvet"}]},
     "mark":{"type":"text","font":"Liberation Serif","fontStyle":"italic","fontWeight":"bold","fontSize":7,"align":"left","baseline":"middle","color":"#222","dx":2},"encoding":{"text":{"field":"name"}}},
    {"data":{"values":[{"v":-16.1,"lat":40.9,"name":"Azores"}]},
     "mark":{"type":"text","font":"Liberation Serif","fontStyle":"italic","fontWeight":"bold","fontSize":7,"align":"right","baseline":"middle","color":"#222"},"encoding":{"text":{"field":"name"}}},
    {"data":{"values":[{"v":-19.5,"lat":73.6,"name":"Atlantic"}]},
     "mark":{"type":"text","font":"Liberation Sans","fontWeight":"bold","fontSize":7.5,"align":"right","baseline":"middle","color":"#222"},"encoding":{"text":{"field":"name"}}}
   ]},
  {"spacing":4,"vconcat":[
    {"spacing":0,"hconcat":[
      {"width":14,"height":1,"data":{"values":[]},"mark":"point","encoding":{},"view":{"stroke":null}},
      {"width":125,"height":73,
       "encoding":{"x":{"field":"v","type":"quantitative","scale":{"domain":[20,-20],"nice":false,"zero":false},"axis":{"orient":"top","values":[20,10,0,-10,-20],"title":null}},
        "y":{"field":"lat","type":"quantitative","scale":{"domain":[-40,20],"nice":false},"axis":{"orient":"right","values":[-40,-20,0,20],"title":"latitude(°)","titlePadding":-1,"labelPadding":0,"titleFontSize":6}}},
       "layer":[
        {"data":{"values":[{"v":19.7,"v2":-20.8,"lat":9.9,"lat2":14},{"v":8.5,"v2":5.6,"lat":-24.7,"lat2":-19.3}]},
         "mark":{"type":"rect","fill":"#d9d9d9","stroke":"#333","strokeWidth":0.6},"encoding":{"x2":{"field":"v2"},"y2":{"field":"lat2"}}},
        {"data":{"values":[{"v":-21.4,"lat":11.95}]},
         "mark":{"type":"point","shape":"triangle-right","filled":true,"fill":"white","stroke":"#333","strokeWidth":0.6,"size":45,"opacity":1}},
        {"data":{"values":[{"v":-0.7,"lat":16.2},{"v":-6.7,"lat":16.2},{"v":2.5,"lat":4.5},{"v":0.7,"lat":5.3},{"v":-0.3,"lat":6.4},{"v":-1.1,"lat":7.2},{"v":-1.8,"lat":7.2},{"v":-3.5,"lat":6.4},{"v":1.1,"lat":-0.2},{"v":0.5,"lat":-1.3},{"v":-0.3,"lat":-0.2},{"v":-0.5,"lat":-1.8},{"v":0.5,"lat":-2.4},{"v":3.5,"lat":-4.5},{"v":1.1,"lat":-4.5},{"v":4.8,"lat":-8.4},{"v":4.3,"lat":-11.9},{"v":1.6,"lat":-9.2},{"v":1.4,"lat":-10.5},{"v":2.1,"lat":-13.3},{"v":3.2,"lat":-17.4},{"v":5.9,"lat":-18.7},{"v":6.7,"lat":-20.9},{"v":7.5,"lat":-23.6},{"v":6.1,"lat":-24.2},{"v":5,"lat":-23.6},{"v":3.7,"lat":-23.6},{"v":3.1,"lat":-20.1},{"v":1.4,"lat":-21.5},{"v":0,"lat":-17.4},{"v":-0.5,"lat":-21.5},{"v":-0.7,"lat":-20.4},{"v":16.1,"lat":-24.7},{"v":12.8,"lat":-24.2},{"v":8,"lat":-24.7}]},
         "mark":{"type":"point","shape":"circle","filled":false,"stroke":"#555","strokeWidth":0.6,"size":18}},
        {"data":{"values":[{"v":13.3,"lat":5.3,"name":"Afar"},{"v":11.7,"lat":-18.2,"name":"Réunion"}]},
         "mark":{"type":"text","font":"Liberation Serif","fontStyle":"italic","fontWeight":"bold","fontSize":7,"align":"center","baseline":"middle","color":"#222"},"encoding":{"text":{"field":"name"}}},
        {"data":{"values":[{"v":19.2,"lat":16.7,"name":"Indian (CIR)"}]},
         "mark":{"type":"text","font":"Liberation Sans","fontWeight":"bold","fontSize":7.5,"align":"left","baseline":"middle","color":"#222"},"encoding":{"text":{"field":"name"}}}
       ]}
    ]},
    {"width":175,"height":128,
     "encoding":{"x":{"field":"lon","type":"quantitative","scale":{"domain":[0,140],"nice":false},"axis":{"values":[0,20,40,60,80,100,120,140],"title":"longitude(°)","titlePadding":1}},
      "y":{"field":"v","type":"quantitative","scale":{"domain":[-20,20],"nice":false},"axis":{"values":[-20,-10,0,10,20],"title":null}}},
     "layer":[
      {"data":{"values":[{"lon":1.3,"lon2":6.7,"v":4.5,"v2":6.6},{"lon":34.1,"lon2":39.5,"v":1.9,"v2":5.1},{"lon":65.3,"lon2":70.1,"v":1.4,"v2":16.6},{"lon":74.1,"lon2":79.2,"v":4.5,"v2":13.7}]},
       "mark":{"type":"rect","fill":"#d9d9d9","stroke":"#333","strokeWidth":0.6},"encoding":{"x2":{"field":"lon2"},"y2":{"field":"v2"}}},
      {"data":{"values":[{"lon":2.1,"v":5.1},{"lon":4,"v":5.6},{"lon":5.3,"v":4.5},{"lon":6.7,"v":5.8},{"lon":4.8,"v":2.2},{"lon":6.7,"v":1.6},{"lon":8,"v":6.4},{"lon":13.3,"v":3.7},{"lon":13.9,"v":6.4},{"lon":14.4,"v":5.8},{"lon":17.3,"v":0.2},{"lon":21.3,"v":0.6},{"lon":26.7,"v":0.2},{"lon":30.7,"v":0.4},{"lon":33.3,"v":0.6},{"lon":36,"v":3.5},{"lon":36.8,"v":4.3},{"lon":37.9,"v":4.8},{"lon":39.5,"v":3.3},{"lon":40.5,"v":5.8},{"lon":40.8,"v":15.5},{"lon":40.5,"v":7.2},{"lon":41.3,"v":1.4},{"lon":44,"v":2.2},{"lon":46.7,"v":6.4},{"lon":49.3,"v":3.5},{"lon":56,"v":5.4},{"lon":57.3,"v":4.3},{"lon":61.9,"v":1.2},{"lon":62.7,"v":4.3},{"lon":64,"v":8.5},{"lon":66.7,"v":6.8},{"lon":68,"v":5.6},{"lon":69.3,"v":5.6},{"lon":70.7,"v":12.4},{"lon":72,"v":6.1},{"lon":73.3,"v":5.6},{"lon":74.7,"v":3.5},{"lon":76.8,"v":13.1},{"lon":77.9,"v":3.5},{"lon":77.3,"v":0.9},{"lon":78.7,"v":1.4},{"lon":78.7,"v":3},{"lon":82.7,"v":6.6},{"lon":84,"v":7.7},{"lon":86.7,"v":8.2},{"lon":88,"v":7.5},{"lon":89.3,"v":3},{"lon":90.7,"v":5.1},{"lon":92,"v":4.5},{"lon":93.3,"v":5.6},{"lon":94.7,"v":6.1},{"lon":96,"v":5.1},{"lon":97.3,"v":6.1},{"lon":98.7,"v":5.6},{"lon":100,"v":5.1},{"lon":101.3,"v":4},{"lon":102.7,"v":3},{"lon":104,"v":2.7},{"lon":105.3,"v":3.7},{"lon":106.7,"v":2.2},{"lon":108,"v":2.5},{"lon":109.3,"v":5.1},{"lon":110.7,"v":5.6},{"lon":112,"v":0.9},{"lon":113.3,"v":3.5},{"lon":114.1,"v":4.5},{"lon":114.7,"v":2.7},{"lon":116,"v":4},{"lon":117.3,"v":7.7},{"lon":118.7,"v":1.4},{"lon":119.5,"v":3.5},{"lon":121.3,"v":-0.2},{"lon":122.7,"v":-0.7},{"lon":124,"v":3},{"lon":125.3,"v":2.5},{"lon":125.9,"v":6.1},{"lon":126.7,"v":4},{"lon":126.7,"v":1.4},{"lon":128,"v":0.6},{"lon":128.5,"v":-5.4},{"lon":129.3,"v":-1.7},{"lon":129.3,"v":-3.8},{"lon":130.1,"v":-1.5},{"lon":131.2,"v":-3.3},{"lon":132,"v":-2.8},{"lon":139.2,"v":-2.8}]},
       "mark":{"type":"point","shape":"circle","filled":false,"stroke":"#555","strokeWidth":0.6,"size":18}},
      {"data":{"values":[{"lon":5.9,"v":9.8,"name":"Bouvet"},{"lon":38.7,"v":-1.5,"name":"Marion"},{"lon":67.2,"v":-4.3,"name":"Kerguelen"},{"lon":82.1,"v":-1.7,"name":"Amsterdam-St.Paul"}]},
       "mark":{"type":"text","font":"Liberation Serif","fontStyle":"italic","fontWeight":"bold","fontSize":7,"align":"center","baseline":"middle","angle":270,"color":"#222"},"encoding":{"text":{"field":"name"}}},
      {"data":{"values":[{"lon":2,"v":17.9,"name":"Indian (SEIR+SWIR)"}]},
       "mark":{"type":"text","font":"Liberation Sans","fontWeight":"bold","fontSize":7.5,"align":"left","baseline":"middle","color":"#222"},"encoding":{"text":{"field":"name"}}}
     ]}
  ]},
  {"spacing":0,"vconcat":[
    {"width":1,"height":15,"data":{"values":[]},"mark":"point","encoding":{},"view":{"stroke":null}},
    {"width":127,"height":177,
     "encoding":{"x":{"field":"v","type":"quantitative","scale":{"domain":[20,-20],"nice":false,"zero":false},"axis":{"orient":"top","values":[20,15,10,5,0,-5,-10,-15,-20],"labelExpr":"datum.value % 10 === 0 ? datum.label : ''","title":null}},
      "y":{"field":"lat","type":"quantitative","scale":{"domain":[-80,60],"nice":false},"axis":{"orient":"right","values":[-80,-60,-40,-20,0,20,40,60],"title":"latitude(°)","titlePadding":-1,"labelPadding":0,"titleFontSize":6}}},
     "layer":[
      {"data":{"values":[{"v":6.3,"v2":-6.8,"lat":-1.4,"lat2":2.5},{"v":14.2,"v2":-1,"lat":-31.8,"lat2":-27}]},
       "mark":{"type":"rect","fill":"#d9d9d9","stroke":"#333","strokeWidth":0.6},"encoding":{"x2":{"field":"v2"},"y2":{"field":"lat2"}}},
      {"data":{"values":[{"v":3.7,"lat":42.1},{"v":2.6,"lat":43.4},{"v":1.6,"lat":41.6},{"v":0,"lat":42.6},{"v":-1,"lat":42.1},{"v":-2.1,"lat":43.4},{"v":-3.1,"lat":41.6},{"v":-4.2,"lat":42.6},{"v":3.1,"lat":40},{"v":-0.5,"lat":40},{"v":-1.6,"lat":40.8},{"v":1.6,"lat":50},{"v":0,"lat":51.3},{"v":-1.6,"lat":48.7},{"v":1,"lat":47.4},{"v":-2.6,"lat":50},{"v":3,"lat":46},{"v":-3.5,"lat":46},{"v":1.6,"lat":20.5},{"v":0,"lat":21},{"v":-0.8,"lat":22.3},{"v":-1.6,"lat":21.5},{"v":-2.1,"lat":20.5},{"v":5.2,"lat":11.8},{"v":4.2,"lat":13.1},{"v":3.1,"lat":13.6},{"v":2.1,"lat":14.4},{"v":1,"lat":15.2},{"v":0,"lat":13.6},{"v":-1,"lat":12.6},{"v":-2.1,"lat":11.8},{"v":3.7,"lat":10.4},{"v":2.6,"lat":11},{"v":1.6,"lat":11.8},{"v":0.5,"lat":11},{"v":-0.5,"lat":11},{"v":4.7,"lat":9.1},{"v":2.6,"lat":9.1},{"v":1,"lat":16.2},{"v":1.6,"lat":18.4},{"v":5.8,"lat":1.2},{"v":4.7,"lat":2},{"v":3.7,"lat":2},{"v":2.6,"lat":2.5},{"v":1.6,"lat":2},{"v":0.5,"lat":1.2},{"v":-0.5,"lat":1.2},{"v":-1.6,"lat":2},{"v":-2.6,"lat":1.2},{"v":4.2,"lat":-0.1},{"v":2.1,"lat":-0.1},{"v":0,"lat":-0.6},{"v":-4.2,"lat":1.2},{"v":-1.3,"lat":-8.6},{"v":0.8,"lat":-13.8},{"v":-0.8,"lat":-13.3},{"v":-0.5,"lat":-15.9},{"v":-1.3,"lat":-15.4},{"v":0,"lat":-17.3},{"v":0.5,"lat":-18.6},{"v":1,"lat":-19.9},{"v":1.6,"lat":-21.2},{"v":2.1,"lat":-22.5},{"v":0.5,"lat":-22.5},{"v":1,"lat":-24.4},{"v":2.6,"lat":-26},{"v":1.6,"lat":-27},{"v":2.3,"lat":-29.1},{"v":0.5,"lat":-26.5},{"v":-0.5,"lat":-25.2},{"v":3.1,"lat":-30.5},{"v":1.9,"lat":-33.1},{"v":1,"lat":-30.5},{"v":10.5,"lat":-24.4},{"v":5.2,"lat":-25.2},{"v":-13.6,"lat":-21.8},{"v":16.8,"lat":-45},{"v":11.5,"lat":-46.3},{"v":10.5,"lat":-43.7},{"v":9.4,"lat":-45},{"v":8.4,"lat":-45.5},{"v":7.3,"lat":-46.3},{"v":6.3,"lat":-45},{"v":5.2,"lat":-46.3},{"v":4.2,"lat":-44.4},{"v":2.6,"lat":-46.3},{"v":1.6,"lat":-43.1},{"v":3.1,"lat":-56.9},{"v":2.1,"lat":-55.5},{"v":1,"lat":-54.2},{"v":0,"lat":-55},{"v":-1,"lat":-54.2},{"v":-2.3,"lat":-53.4},{"v":2.6,"lat":-58.7},{"v":1.6,"lat":-60.3},{"v":0.5,"lat":-59.5},{"v":-0.5,"lat":-60.8},{"v":-1.6,"lat":-58.7},{"v":1.6,"lat":-63.4},{"v":0.5,"lat":-64.8},{"v":-0.5,"lat":-63.4},{"v":-1.6,"lat":-64.8},{"v":-3.1,"lat":-64.8},{"v":-4.2,"lat":-64.8},{"v":7.9,"lat":-63.4},{"v":7.6,"lat":-65.6}]},
       "mark":{"type":"point","shape":"circle","filled":false,"stroke":"#555","strokeWidth":0.6,"size":18}},
      {"data":{"values":[{"v":-6.8,"lat":-0.1,"name":"Galapagos"}]},
       "mark":{"type":"text","font":"Liberation Serif","fontStyle":"italic","fontWeight":"bold","fontSize":7,"align":"left","baseline":"middle","color":"#222","dx":2},"encoding":{"text":{"field":"name"}}},
      {"data":{"values":[{"v":14.2,"lat":-29.1,"name":"Easter"}]},
       "mark":{"type":"text","font":"Liberation Serif","fontStyle":"italic","fontWeight":"bold","fontSize":7,"align":"right","baseline":"middle","color":"#222","dx":-1},"encoding":{"text":{"field":"name"}}},
      {"data":{"values":[{"v":19.5,"lat":54.5,"name":"Pacific"}]},
       "mark":{"type":"text","font":"Liberation Sans","fontWeight":"bold","fontSize":7.5,"align":"left","baseline":"middle","color":"#222"},"encoding":{"text":{"field":"name"}}}
     ]}
  ]}
 ]
}
]}
]
}
